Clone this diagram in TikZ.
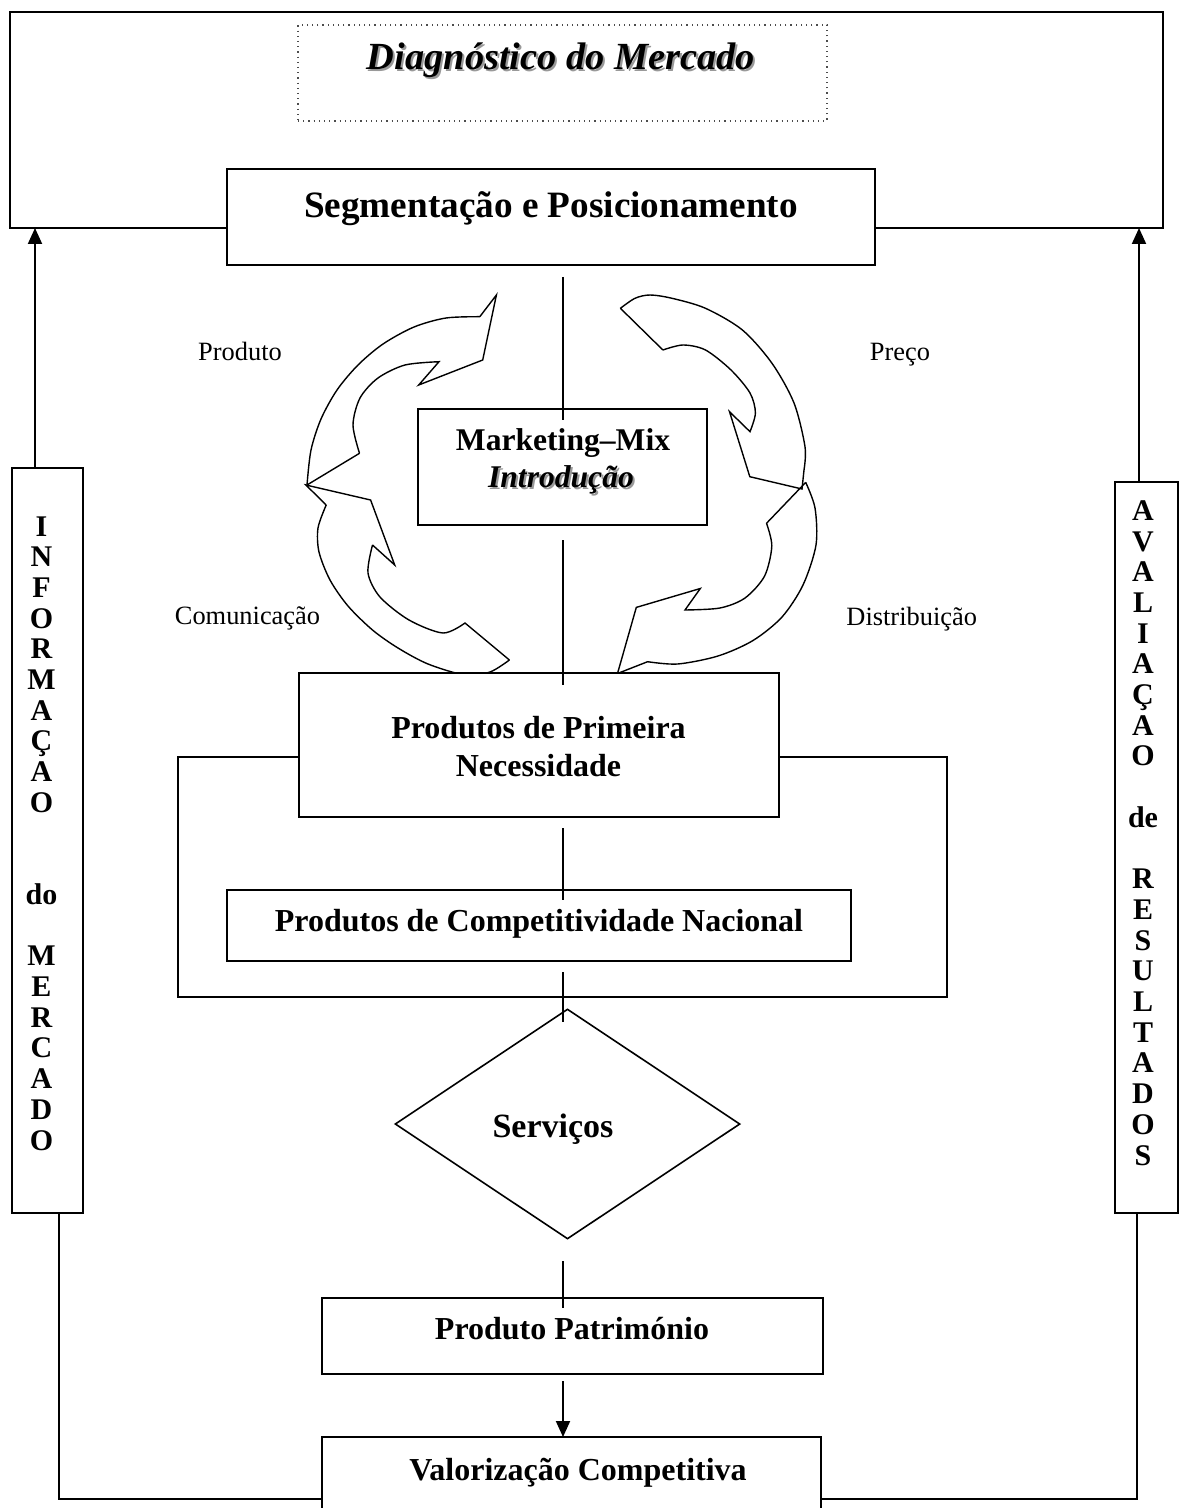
\documentclass[tikz,border=0pt]{standalone}
\usepackage{fontspec}
\setmainfont{Liberation Serif}
\usetikzlibrary{arrows.meta,shapes.geometric}
\begin{document}
\begin{tikzpicture}[x=0.5pt,y=-0.5pt,
  bx/.style={draw, line width=1pt, fill=white, inner sep=0pt, rectangle},
  dotbox/.style={draw=black!70, line width=0.6pt, dotted, inner sep=0pt, rectangle},
  ln/.style={line width=0.8pt},
  carrow/.style={draw, line width=0.7pt, line join=miter},
  upar/.style={line width=1pt, -{Triangle[length=8pt,width=7pt]}},
  lbl/.style={font=\fontsize{13.2}{15}\selectfont, inner sep=0pt, anchor=base},
  bt/.style={font=\bfseries\fontsize{16}{19.5}\selectfont, inner sep=0pt, anchor=base},
  side/.style={font=\bfseries\fontsize{15}{15.35}\selectfont, inner sep=0pt, align=center},
]
\useasboundingbox (0,0) rectangle (1181,1508);

% ---------- top frame ----------
\node[bx, minimum width=576.5pt, minimum height=108pt] (topframe) at (586.5,120) {};
\node[dotbox, minimum width=264.5pt, minimum height=48pt] (diag) at (562.5,73) {};
\node[font=\bfseries\itshape\fontsize{19.2}{22}\selectfont, text=black!40, inner sep=0pt, anchor=base] (diagsh) at (563,72) {Diagnóstico do Mercado};
\node[font=\bfseries\itshape\fontsize{19.2}{22}\selectfont, inner sep=0pt, anchor=base] (diagt) at (561,70) {Diagnóstico do Mercado};

\node[bx, minimum width=324pt, minimum height=48pt] (seg) at (551,217) {};
\node[font=\bfseries\fontsize{18.6}{22}\selectfont, inner sep=0pt, anchor=base] (segt) at (551,218) {Segmentação e Posicionamento};

% ---------- side boxes ----------
\node[bx, minimum width=35.5pt, minimum height=372.5pt] (lbox) at (47.5,840.5) {};
\node[side] (lboxt) at (41.5,833.4) {I\\N\\F\\O\\R\\M\\A\\Ç\\A\\O\\\mbox{}\\\mbox{}\\do\\\mbox{}\\M\\E\\R\\C\\A\\D\\O};
\node[bx, minimum width=31.5pt, minimum height=365.5pt] (rbox) at (1146.5,847.5) {};
\node[side] (rboxt) at (1143,832.9) {A\\V\\A\\L\\I\\A\\Ç\\A\\O\\\mbox{}\\de\\\mbox{}\\R\\E\\S\\U\\L\\T\\A\\D\\O\\S};

% ---------- labels ----------
\node[lbl] (lprod) at (240,360) {Produto};
\node[lbl] (lprec) at (900,360) {Preço};
\node[lbl] (lcom) at (247.5,624) {Comunicação};
\node[lbl] (ldist) at (911.7,625) {Distribuição};

% ---------- curved arrows ----------
% top-left (Produto)
\draw[carrow] (307,485) -- (359.5,453.3)
  plot[smooth] coordinates {(359.5,453.3) (353,425) (360,398) (378,378) (405,365) (439,361.7)}
  -- (418.7,385) -- (482.7,360) -- (496.4,295) -- (479.8,316.7)
  plot[smooth] coordinates {(479.8,316.7) (446,318) (414,327) (383,344) (358,365) (337,390) (321,419) (311,450) (307,485)};
% bottom-left (Comunicacao)
\draw[carrow] (326.2,505) -- (305.9,485) -- (370.6,500) -- (394.7,565) -- (372.5,545)
  plot[smooth] coordinates {(372.5,545) (368,573) (380,597) (409,620) (443,633) (465,623)}
  -- (509.4,660)
  plot[smooth] coordinates {(509.4,660) (490,672) (465,675) (428,664) (398,648) (372.5,630) (348,606) (330,580) (319,552) (318,528) (326.2,505)};
% top-right (Preco)
\draw[carrow] (620.4,308.3) -- (662.9,350)
  plot[smooth] coordinates {(662.9,350) (683,345) (705.5,350) (731,370) (750,393) (755.4,413) (750,431.7)}
  -- (729.5,411.7) -- (749.8,476.7) -- (802,489) -- (804,470)
  plot[smooth] coordinates {(804,470) (805,446.7) (794,403) (772,363.3) (742.4,330) (705.5,308.3) (672,298.3) (650,295) (635,298.3) (620.4,308.3)};
% bottom-right (Distribuicao)
\draw[carrow] (805.7,482.4) -- (766.5,523.3)
  plot[smooth] coordinates {(766.5,523.3) (771.8,546) (764.6,576) (745,598) (720,608) (685,610)}
  -- (700.3,588.5) -- (636.3,607.4) -- (617.5,673.5) -- (647.6,661.7)
  plot[smooth] coordinates {(647.6,661.7) (677.7,664) (718,656) (753,640.5) (782,617) (803,585) (816,545) (815,508) (805.7,482.4)};

% ---------- middle boxes ----------
\node[bx, minimum width=144.5pt, minimum height=58pt] (mm) at (562.5,467) {};
\node[font=\bfseries\fontsize{15.8}{19}\selectfont, inner sep=0pt, anchor=base] (mmt) at (563,450.5) {Marketing–Mix};
\node[font=\bfseries\itshape\fontsize{15.8}{19}\selectfont, text=black!40, inner sep=0pt, anchor=base] (mmsh) at (563,489) {Introdução};
\node[font=\bfseries\itshape\fontsize{15.8}{19}\selectfont, inner sep=0pt, anchor=base] (mmi) at (561,487) {Introdução};

\node[bx, fill=none, minimum width=384.5pt, minimum height=120pt] (frame2) at (562.5,877) {};
\node[bx, minimum width=240pt, minimum height=72pt] (ppn) at (539,745) {};
\node[bt] (ppnt1) at (538.5,738.4) {Produtos de Primeira};
\node[bt] (ppnt2) at (538.5,776) {Necessidade};

\node[bx, minimum width=312pt, minimum height=35.5pt] (pcn) at (539,925.5) {};
\node[bt] (pcnt) at (539,931.6) {Produtos de Competitividade Nacional};

\node[diamond, draw, line width=0.8pt, minimum width=172.5pt, minimum height=115pt, inner sep=0pt] (serv) at (567.5,1124) {};
\node[font=\bfseries\fontsize{17}{20}\selectfont, inner sep=0pt, anchor=base] (servt) at (553,1137) {Serviços};

\node[bx, minimum width=250.5pt, minimum height=38pt] (pat) at (572.5,1336) {};
\node[bt] (patt) at (572,1339.3) {Produto Património};

\node[bx, minimum width=249.5pt, minimum height=39pt] (val) at (571.5,1476) {};
\node[bt] (valt) at (578,1480.5) {Valorização Competitiva};

% ---------- connectors ----------
\coordinate (c1a) at (563,277); \coordinate (c1b) at (563,420);
\coordinate (c2a) at (563,540); \coordinate (c2b) at (563,685);
\coordinate (c3a) at (563,828); \coordinate (c3b) at (563,900);
\coordinate (c4a) at (563,972); \coordinate (c4b) at (563,1022);
\coordinate (c5a) at (563,1261); \coordinate (c5b) at (563,1308);
\coordinate (c6a) at (563,1381); \coordinate (c6b) at (563,1437);
\draw[ln] (c1a) -- (c1b);
\draw[ln] (c2a) -- (c2b);
\draw[ln] (c3a) -- (c3b);
\draw[ln] (c4a) -- (c4b);
\draw[ln] (c5a) -- (c5b);
\draw[upar] (c6a) -- (c6b);

\coordinate (la) at (35,468); \coordinate (lb) at (35,228);
\coordinate (ra) at (1139,482); \coordinate (rb) at (1139,228);
\draw[upar] (la) -- (lb);
\draw[upar] (ra) -- (rb);

\coordinate (lq1) at (59,1213); \coordinate (lq2) at (59,1499); \coordinate (lq3) at (322,1499);
\coordinate (rq1) at (1137,1213); \coordinate (rq2) at (1137,1499); \coordinate (rq3) at (821,1499);
\draw[line width=1.1pt] (lq1) -- (lq2) -- (lq3);
\draw[line width=1.1pt] (rq1) -- (rq2) -- (rq3);
\end{tikzpicture}
\end{document}
